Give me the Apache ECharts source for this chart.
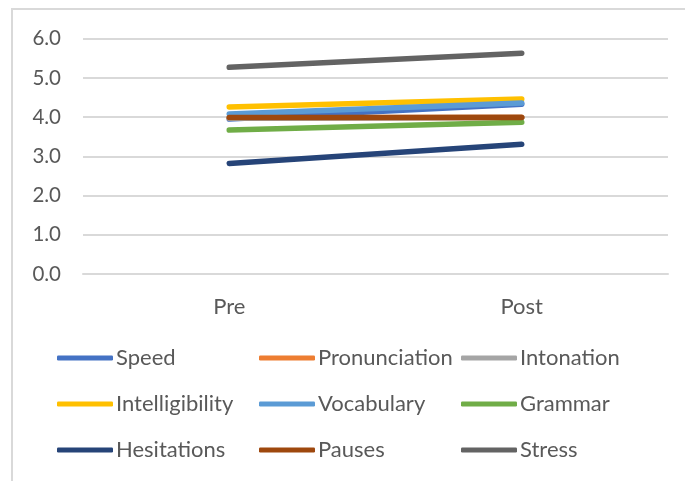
<!DOCTYPE html>
<html>
<head>
<meta charset="utf-8">
<script src="https://cdn.jsdelivr.net/npm/echarts@6/dist/echarts.min.js"></script>
<style>
  html, body { margin: 0; padding: 0; background: #fff; }
  #chart { width: 685px; height: 481px; }
</style>
</head>
<body>
<div id="chart"></div>
<script>
// Pre / post ratings for each speaking criterion
const categories = ['Pre', 'Post'];
const seriesNames = ['Speed', 'Pronunciation', 'Intonation', 'Intelligibility', 'Vocabulary', 'Grammar', 'Hesitations', 'Pauses', 'Stress'];
const speed = [3.95, 4.33];
const pronunciation = [3.98, 4.00];
const intonation = [3.97, 3.99];
const intelligibility = [4.26, 4.46];
const vocabulary = [4.08, 4.36];
const grammar = [3.67, 3.87];
const hesitations = [2.82, 3.31];
const pauses = [3.99, 3.99];
const stress = [5.27, 5.63];
const yTicks = [0, 1, 2, 3, 4, 5, 6];

const values = [speed, pronunciation, intonation, intelligibility, vocabulary, grammar, hesitations, pauses, stress];
const colors = ['#4472C4', '#ED7D31', '#A5A5A5', '#FFC000', '#5B9BD5', '#70AD47', '#264478', '#9E480E', '#636363'];

const FONT = 'Lato';
const TEXT = '#595959';
const GRID = '#d9d9d9';

const series = seriesNames.map((name, i) => ({
  name: name,
  type: 'line',
  data: values[i],
  showSymbol: false,
  symbol: 'none',
  animation: false,
  lineStyle: { width: 5.5, color: colors[i], cap: 'round' },
  itemStyle: { color: colors[i] }
}));

// legend laid out as a 3x3 grid of columns
const colX = [57, 259, 461];
const rowY = [359, 405, 451];
const legends = seriesNames.map((name, i) => ({
  data: [name],
  left: colX[i % 3],
  top: rowY[Math.floor(i / 3)] - 12,
  padding: 0,
  itemWidth: 56,
  itemHeight: 5,
  itemGap: 0,
  icon: 'roundRect',
  textStyle: { fontFamily: FONT, fontSize: 22, color: TEXT, padding: [0, 0, 0, -2] },
  selectedMode: false
}));

const chart = echarts.init(document.getElementById('chart'), null, { renderer: 'canvas' });
chart.setOption({
  animation: false,
  backgroundColor: '#fff',
  graphic: [{
    type: 'rect',
    shape: { x: 12, y: 9, width: 700, height: 500 },
    style: { fill: 'none', stroke: GRID, lineWidth: 2 },
    silent: true,
    z: -1
  }],
  grid: { left: 83, right: 17, top: 38.7, bottom: 207 },
  xAxis: {
    type: 'category',
    data: categories,
    boundaryGap: true,
    axisLine: { show: true, lineStyle: { color: GRID, width: 2 } },
    axisTick: { show: false },
    axisLabel: { fontFamily: FONT, fontSize: 22, color: TEXT, margin: 22 }
  },
  yAxis: {
    type: 'value',
    min: yTicks[0],
    max: yTicks[yTicks.length - 1],
    interval: 1,
    axisLine: { show: false },
    axisTick: { show: false },
    splitLine: { lineStyle: { color: GRID, width: 2 } },
    axisLabel: {
      fontFamily: FONT, fontSize: 20.5, color: TEXT, margin: 22,
      formatter: v => v.toFixed(1)
    }
  },
  legend: legends,
  series: series
});
</script>
</body>
</html>
